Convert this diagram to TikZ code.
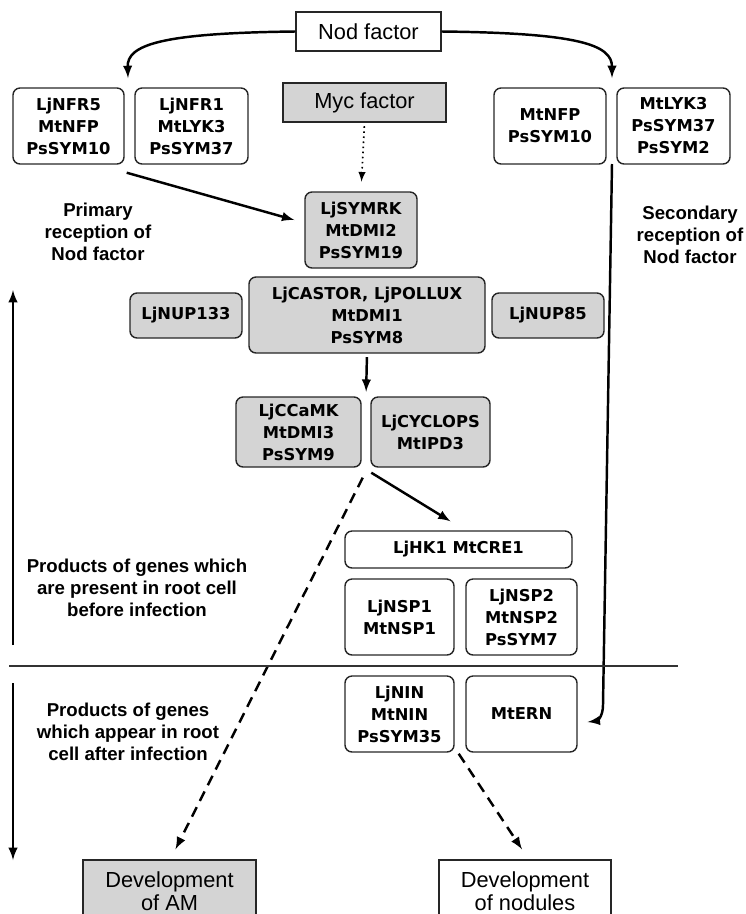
\documentclass[tikz,border=0pt]{standalone}
\usepackage{fontspec}
\setmainfont{Liberation Sans}
\newfontfamily\genefont{DejaVu Sans}
\usetikzlibrary{arrows,calc}

\begin{document}
\begin{tikzpicture}[x=0.02cm, y=-0.02cm,
  size/.style 2 args={minimum width=#1*0.02cm, minimum height=#2*0.02cm},
  gene/.style={draw=black!85, line width=0.8pt, rounded corners=4pt, align=center, inner sep=0pt,
    font=\genefont\bfseries\fontsize{9.3}{12.5}\selectfont},
  grey/.style={fill=black!17},
  plain/.style={draw=black!85, line width=0.8pt, align=center, inner sep=0pt,
    font=\fontsize{12.4}{12.8}\selectfont},
  note/.style={align=center, font=\bfseries\fontsize{10.6}{12.5}\selectfont},
  link/.style={-latex, line width=1.4pt},
  dashlink/.style={link, dash pattern=on 6pt off 4pt},
]
  \clip (0,0) rectangle (745,914);   % picture frame

  % signals
  \node[plain, size={145}{39}] (nod) at (368.5,31.5) {Nod factor};
  \node[plain, grey, size={163}{39}] (myc) at (364.5,102.5) {Myc factor};

  % receptors
  \node[gene, size={111}{76}] (nfr5) at (68.5,126) {LjNFR5\\MtNFP\\PsSYM10};
  \node[gene, size={113}{76}] (nfr1) at (191.5,126) {LjNFR1\\MtLYK3\\PsSYM37};
  \node[gene, size={112}{76}] (nfp) at (550,126) {MtNFP\\PsSYM10};
  \node[gene, size={113}{76}] (lyk3) at (673.5,126) {MtLYK3\\PsSYM37\\PsSYM2};

  % common pathway
  \node[gene, grey, size={112}{76}] (symrk) at (361,230) {LjSYMRK\\MtDMI2\\PsSYM19};
  \node[gene, grey, size={236}{76}] (castor) at (367,315) {LjCASTOR, LjPOLLUX\\MtDMI1\\PsSYM8};
  \node[gene, grey, size={112}{45}] (nup133) at (186,315.5) {LjNUP133};
  \node[gene, grey, size={112}{45}] (nup85) at (548,315.5) {LjNUP85};
  \node[gene, grey, size={125}{70}] (ccamk) at (298.5,432) {LjCCaMK\\MtDMI3\\PsSYM9};
  \node[gene, grey, size={119}{70}] (cyclops) at (430.5,432) {LjCYCLOPS\\MtIPD3};

  % nodulation
  \node[gene, size={227}{37}] (hk) at (458.5,549.5) {LjHK1 MtCRE1};
  \node[gene, size={109}{76}] (nsp1) at (399.5,617) {LjNSP1\\MtNSP1};
  \node[gene, size={111}{76}] (nsp2) at (521.5,617) {LjNSP2\\MtNSP2\\PsSYM7};
  \node[gene, size={109}{76}] (nin) at (399.5,714) {LjNIN\\MtNIN\\PsSYM35};
  \node[gene, size={111}{76}] (ern) at (521.5,714) {MtERN};

  % outcomes
  \node[plain, grey, size={173}{62}] (am) at (169.5,891) {Development\\of AM};
  \node[plain, size={172}{62}] (nodules) at (525,891) {Development\\of nodules};

  % side notes
  \node[note] (primary) at (98,232) {Primary\\reception of\\Nod factor};
  \node[note] (secondary) at (690,235) {Secondary\\reception of\\Nod factor};
  \node[note] (before) at (137,588) {Products of genes which\\are present in root cell\\before infection};
  \node[note] (after) at (128,732) {Products of genes\\which appear in root\\cell after infection};

  \coordinate (nfrgap) at (128,78);
  \coordinate (nfpgap) at (612,78);
  \coordinate (nfpfoot) at (612,164);
  \coordinate (ccgap) at (366,397);

  % arrows
  \draw[link] (nod.west) .. controls (160,33) and (127,45) .. (nfrgap);
  \draw[link] (nod.east) .. controls (580,33) and (612,45) .. (nfpgap);
  \draw[-latex, line width=0.9pt, dotted, shorten <=2pt, shorten >=5.5pt] (myc.south) -- (symrk.north);
  \draw[link] ($(nfr5.south east)+(2,8)$) -- ($(symrk.west)+(-10,-10)$);
  \draw[link, shorten <=2pt, shorten >=3pt] (castor.south) -- (ccgap);
  \draw[link] (nfpfoot) -- (603,705) .. controls (603,718) and (596,721) .. ($(ern.east)+(10,8)$);
  \draw[link] ($(cyclops.south west)+(1,5)$) -- ($(hk.north)+(-8,-9)$);
  \draw[dashlink] ($(ccamk.south east)+(1,10)$) -- ($(am.north)+(6,-10)$);
  \draw[dashlink] ($(nin.south east)+(4,1)$) -- ($(nodules.north)+(-3,-10)$);

  % before / after infection
  \draw[line width=1pt, black!80] (9,666) -- (678,666);
  \draw[link] (13,645) -- (13,290);
  \draw[link] (13,683) -- (13,860);
\end{tikzpicture}
\end{document}
